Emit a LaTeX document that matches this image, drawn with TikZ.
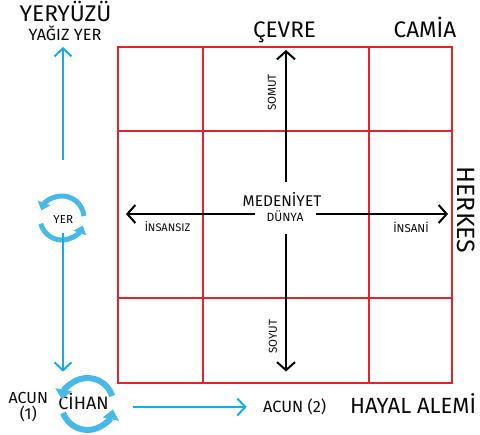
\documentclass[tikz,border=0pt]{standalone}
\usepackage{fontspec}
\setmainfont{Fira Sans}
\usetikzlibrary{arrows.meta}
\definecolor{gridred}{RGB}{222,36,46}
\definecolor{skyblue}{RGB}{20,172,232}
\definecolor{cycleblue}{RGB}{72,184,232}
\definecolor{ink}{RGB}{10,10,10}
\tikzset{
  gridline/.style={draw=gridred, line width=2pt},
  axis/.style={draw=black, line width=2pt, -{Straight Barb[length=8pt,width=18pt,line width=2pt]}},
  bluearrow/.style={draw=skyblue, line width=2pt, -{Straight Barb[length=8pt,width=17pt,line width=2pt]}},
  cyc/.style={draw=cycleblue, line width=#1},
  lbl/.style={inner sep=0pt, text=ink, font=\fontsize{#1}{#1}\selectfont},
}
\begin{document}
\begin{tikzpicture}[x=1pt,y=-1pt]
\useasboundingbox (0,0) rectangle (480,435);
% grid
\draw[gridline] (118,47) rectangle (452,383);
\draw[gridline] (203,47) -- (203,383);
\draw[gridline] (369,47) -- (369,383);
\draw[gridline] (118,131) -- (452,131);
\draw[gridline] (118,298) -- (452,298);
% centre texts
\node[lbl=15.5, anchor=base] (med) at (282,206.7) {MEDENİYET};
\node[lbl=12, anchor=base] (dunya) at (285,221.5) {DÜNYA};
\node[lbl=11, anchor=base] (insansiz) at (167.5,231.7) {İNSANSIZ};
\node[lbl=11.5, anchor=base] (insani) at (411,233) {İNSANİ};
\node[lbl=11.5, rotate=90] (somut) at (272,92.5) {SOMUT};
\node[lbl=11.5, rotate=90] (soyut) at (273,336.5) {SOYUT};
% axis coordinates
\coordinate (vtop) at (286,182.5);
\coordinate (vtoptip) at (286,50);
\coordinate (vbot) at (286,234);
\coordinate (vbottip) at (286,371.5);
\coordinate (hleft) at (255,214);
\coordinate (hlefttip) at (126,214);
\coordinate (hright) at (316,214);
\coordinate (hrighttip) at (448,214);
\draw[axis] (vtop) -- (vtoptip);
\draw[axis] (vbot) -- (vbottip);
\draw[axis] (hleft) -- (hlefttip);
\draw[axis] (hright) -- (hrighttip);
% titles
\node[lbl=22.5, anchor=base] (cevre) at (284.5,37.7) {ÇEVRE};
\node[lbl=22.5, anchor=base] (camia) at (425,37.7) {CAMİA};
\node[lbl=25, rotate=-90] (herkes) at (466.5,210) {HERKES};
\node[lbl=22, anchor=base west] (hayal) at (350,414) {HAYAL ALEMİ};
\node[lbl=16.3, anchor=base] (acun2) at (294.7,412.7) {ACUN (2)};
\node[lbl=22.7, anchor=base] (yeryuzu) at (65.5,21.7) {YERYÜZÜ};
\node[lbl=16.3, anchor=base] (yagiz) at (65,40.7) {YAĞIZ YER};
% YER cycle
\coordinate (yerc) at (62,218);
\node[lbl=11.6, anchor=base] (yer) at (63.3,224) {YER};
\draw[cyc=5pt, -{Triangle[length=8pt,width=13pt]}] ([shift={(-5:22)}]yerc) arc[start angle=-5, end angle=-160, radius=22];
\draw[cyc=5pt, -{Triangle[length=8pt,width=13pt]}] ([shift={(165:22)}]yerc) arc[start angle=165, end angle=20, radius=22];
% CIHAN cycle
\coordinate (cihc) at (87.5,404);
\node[lbl=18, anchor=base] (cihan) at (83.5,409.3) {CİHAN};
\draw[cyc=6pt, -{Triangle[length=10pt,width=16pt]}] ([shift={(-18:26)}]cihc) arc[start angle=-18, end angle=-170, radius=26];
\draw[cyc=6pt, -{Triangle[length=10pt,width=16pt]}] ([shift={(160:26)}]cihc) arc[start angle=160, end angle=12, radius=26];
\node[lbl=16, anchor=base] (acun1) at (28.3,404) {ACUN};
\node[lbl=16, anchor=base] (one) at (28.3,420) {(1)};
% blue arrows
\coordinate (upstart) at (63,160);
\coordinate (uptip) at (63,47);
\coordinate (downstart) at (63,233);
\coordinate (downtip) at (63,371.7);
\coordinate (rstart) at (133.3,407);
\coordinate (rtip) at (246.7,407);
\draw[bluearrow] (upstart) -- (uptip);
\draw[bluearrow] (downstart) -- (downtip);
\draw[bluearrow] (rstart) -- (rtip);
\end{tikzpicture}
\end{document}
